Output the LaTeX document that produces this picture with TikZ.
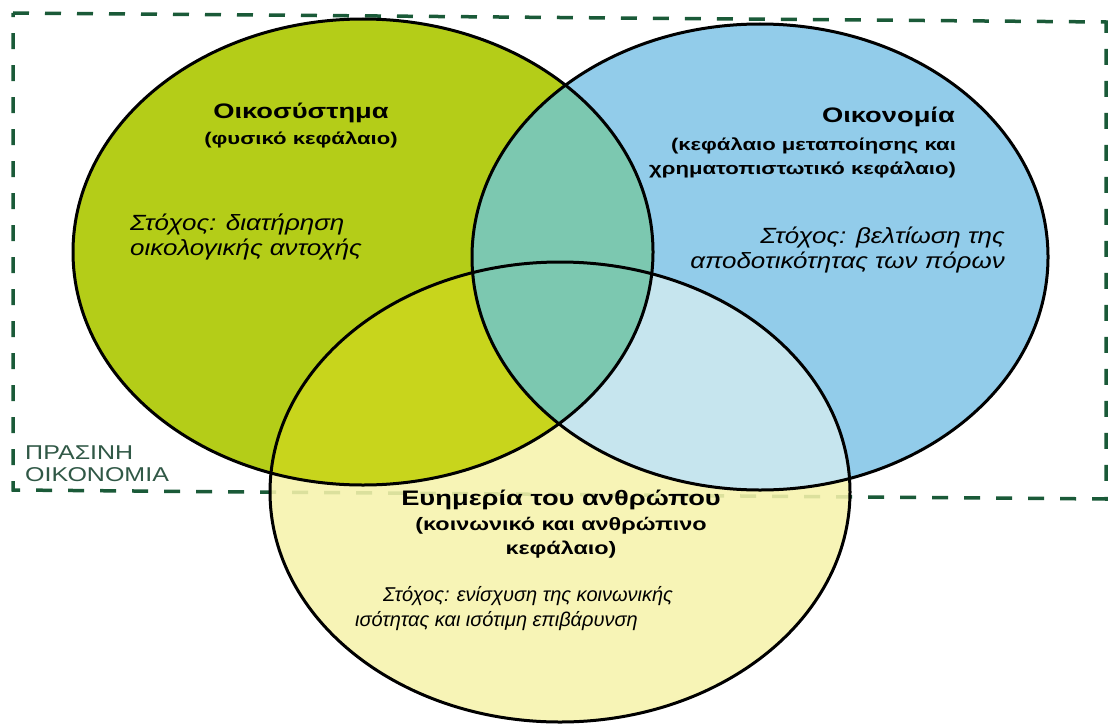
\documentclass[tikz,border=0pt]{standalone}
\usepackage{fontspec}
\setmainfont{Liberation Sans}
\newfontfamily\headfont[FakeStretch=1.3]{Liberation Sans}
\newfontfamily\goalfont[FakeStretch=1.18]{Liberation Sans}
\newfontfamily\framefont[FakeStretch=1.25]{Liberation Sans}
\usetikzlibrary{positioning}

\definecolor{ecogreen}{RGB}{180,205,24}
\definecolor{econblue}{RGB}{146,204,234}
\definecolor{welfyellow}{RGB}{246,243,172}
\definecolor{gbteal}{RGB}{124,200,176}
\definecolor{gylime}{RGB}{200,213,28}
\definecolor{bylight}{RGB}{198,229,238}
\definecolor{framegreen}{RGB}{26,90,56}
\definecolor{labelgreen}{RGB}{48,88,70}

\begin{document}
\begin{tikzpicture}[
    x=1pt,y=-1pt,
    rim/.style={
      draw=black,
      line width=3pt
      },
    frame/.style={
      draw=framegreen,
      line width=3.5pt,
      dash pattern=on 16pt off 16pt
      },
    title/.style={
      font=\headfont\fontsize{21}{24}\selectfont\bfseries,
      inner sep=0pt
      },
    capital/.style={
      font=\headfont\fontsize{17}{24}\selectfont\bfseries,
      inner sep=0pt
      },
    goal/.style={
      font=\goalfont\fontsize{22}{25}\selectfont\itshape,
      inner sep=0pt
      },
    region/.style={
      font=\framefont\fontsize{20}{22}\selectfont,
      text=labelgreen,
      inner sep=0pt,
      align=left
      }
    ]
    \useasboundingbox (0,0) rectangle (1110,725);
    \fill[white] (0,0) rectangle (1110,725);

    \coordinate (eco) at (363,252);
    \coordinate (econ) at (760,257);
    \coordinate (welf) at (560,492);

    % green economy frame
    \draw[frame] (13,13) -- (1106,22) -- (1106,499) -- (13,490) -- cycle;

    % the three sets
    \fill[ecogreen] (eco) ellipse [x radius=290, y radius=233];
    \fill[econblue] (econ) ellipse [x radius=288, y radius=233];
    \fill[welfyellow, fill opacity=0.88] (welf) ellipse [x radius=290, y radius=230];
    \begin{scope}
      \clip (eco) ellipse [x radius=290, y radius=233];
      \fill[gylime] (welf) ellipse [x radius=290, y radius=230];
    \end{scope}
    \begin{scope}
      \clip (econ) ellipse [x radius=288, y radius=233];
      \fill[bylight] (welf) ellipse [x radius=290, y radius=230];
    \end{scope}
    \begin{scope}
      \clip (eco) ellipse [x radius=290, y radius=233];
      \fill[gbteal] (econ) ellipse [x radius=288, y radius=233];
    \end{scope}
    \draw[rim] (eco) ellipse [x radius=290, y radius=233];
    \draw[rim] (econ) ellipse [x radius=288, y radius=233];
    \draw[rim] (welf) ellipse [x radius=290, y radius=230];

    % texts
    \node[title] (ecotitle) at (301,113) {Οικοσύστημα};
    \node[capital, below=8pt of ecotitle] (ecocap) {(φυσικό κεφάλαιο)};
    \node[goal, anchor=west, align=left] (ecogoal) at (130,237)
      {Στόχος: διατήρηση\\οικολογικής αντοχής};

    \node[title, anchor=east] (econtitle) at (955,117) {Οικονομία};
    \node[capital, anchor=east, align=right] (econcap) at (956,158)
      {(κεφάλαιο μεταποίησης και\\χρηματοπιστωτικό κεφάλαιο)};
    \node[goal, anchor=east, align=right] (econgoal) at (1005,250)
      {Στόχος: βελτίωση της\\αποδοτικότητας των πόρων};

    \node[title] (welftitle) at (561,500) {Ευημερία του ανθρώπου};
    \node[capital, font=\headfont\fontsize{18}{24}\selectfont\bfseries,
      align=center, below=7pt of welftitle] (welfcap)
      {(κοινωνικό και ανθρώπινο\\κεφάλαιο)};
    \node[goal, font=\fontsize{20}{25}\selectfont\itshape, align=left, anchor=west]
      (welfgoal) at (355,609)
      {\hspace*{28pt}Στόχος: ενίσχυση της κοινωνικής\\ισότητας και ισότιμη επιβάρυνση};

    \node[region, anchor=south west] (greenecon) at (25,482) {ΠΡΑΣΙΝΗ\\ΟΙΚΟΝΟΜΙΑ};
\end{tikzpicture}
\end{document}
